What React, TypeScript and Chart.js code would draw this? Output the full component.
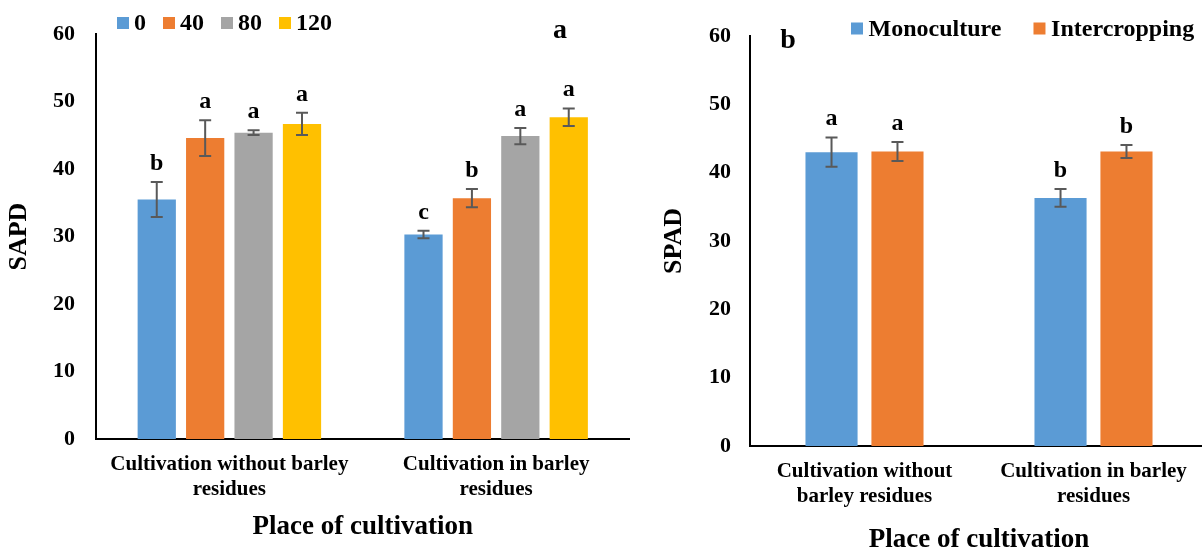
import React, { useEffect, useRef } from "react";
import { Chart, registerables } from "chart.js";

Chart.register(...registerables);

const FONT = '"Liberation Serif", "Times New Roman", Times, serif';

// ---------- Panel a ----------
const categoriesA = [
  ["Cultivation without barley", "residues"],
  ["Cultivation in barley", "residues"],
];
const seriesNamesA = ["0", "40", "80", "120"];
const colorsA = ["#5B9BD5", "#ED7D31", "#A5A5A5", "#FFC000"];
const valuesA0 = [35.5, 30.3];
const valuesA40 = [44.6, 35.7];
const valuesA80 = [45.4, 44.9];
const valuesA120 = [46.7, 47.7];
const errA0 = [2.6, 0.55];
const errA40 = [2.65, 1.35];
const errA80 = [0.35, 1.2];
const errA120 = [1.65, 1.3];
const lettersA0 = ["b", "c"];
const lettersA40 = ["a", "b"];
const lettersA80 = ["a", "a"];
const lettersA120 = ["a", "a"];

// ---------- Panel b ----------
const categoriesB = [
  ["Cultivation without", "barley residues"],
  ["Cultivation in barley", "residues"],
];
const seriesNamesB = ["Monoculture", "Intercropping"];
const colorsB = ["#5B9BD5", "#ED7D31"];
const valuesMono = [43.0, 36.3];
const valuesInter = [43.1, 43.1];
const errMono = [2.15, 1.3];
const errInter = [1.4, 0.95];
const lettersMono = ["a", "b"];
const lettersInter = ["a", "b"];

const yTicks = [0, 10, 20, 30, 40, 50, 60];

function annotPlugin(cfg: any) {
  return {
    id: "annot",
    afterDatasetsDraw(chart: any) {
      const ctx = chart.ctx;
      const ys = chart.scales.y;
      chart.data.datasets.forEach((ds: any, i: number) => {
        const meta = chart.getDatasetMeta(i);
        meta.data.forEach((bar: any, j: number) => {
          const v = ds.data[j];
          const e = cfg.errors[i][j];
          const x = bar.x;
          const yt = ys.getPixelForValue(v + e);
          const yb = ys.getPixelForValue(v - e);
          ctx.save();
          ctx.strokeStyle = "#595959";
          ctx.lineWidth = 2;
          ctx.beginPath();
          ctx.moveTo(x, yt);
          ctx.lineTo(x, yb);
          ctx.moveTo(x - 6, yt);
          ctx.lineTo(x + 6, yt);
          ctx.moveTo(x - 6, yb);
          ctx.lineTo(x + 6, yb);
          ctx.stroke();
          ctx.fillStyle = "#000";
          ctx.font = `bold 24px ${FONT}`;
          ctx.textAlign = "center";
          ctx.textBaseline = "alphabetic";
          ctx.fillText(cfg.letters[i][j], x, yt - 12);
          ctx.restore();
        });
      });
      // legend
      ctx.save();
      ctx.font = `bold ${cfg.legend.size}px ${FONT}`;
      ctx.textBaseline = "alphabetic";
      ctx.textAlign = "left";
      let lx = cfg.legend.x;
      chart.data.datasets.forEach((ds: any) => {
        ctx.fillStyle = ds.backgroundColor;
        ctx.fillRect(lx, cfg.legend.boxTop, 12, 12);
        ctx.fillStyle = "#000";
        const tx = lx + cfg.legend.textOffset;
        ctx.fillText(ds.label, tx, cfg.legend.baseline);
        lx = tx + ctx.measureText(ds.label).width + cfg.legend.gap;
      });
      // panel label
      ctx.font = `bold 28px ${FONT}`;
      ctx.textAlign = "center";
      ctx.fillText(cfg.panel.text, cfg.panel.x, cfg.panel.y);
      ctx.restore();
    },
  };
}

function makeConfig(p: any) {
  return {
    type: "bar",
    data: {
      labels: p.categories,
      datasets: p.series.map((s: any) => ({
        label: s.name,
        data: s.values,
        backgroundColor: s.color,
        borderWidth: 0,
        categoryPercentage: p.catPct,
        barPercentage: p.barPct,
      })),
    },
    options: {
      responsive: false,
      animation: false,
      layout: { padding: { top: p.top, right: p.right, left: 0, bottom: 0 } },
      plugins: { legend: { display: false }, tooltip: { enabled: false } },
      scales: {
        x: {
          grid: { display: false, drawTicks: false },
          border: { display: true, color: "#000", width: 2 },
          ticks: {
            color: "#000",
            font: { family: FONT, size: 21, weight: "bold", lineHeight: 1.2 },
            padding: 13,
            maxRotation: 0,
            autoSkip: false,
          },
          title: {
            display: true,
            text: "Place of cultivation",
            color: "#000",
            font: { family: FONT, size: 27, weight: "bold", lineHeight: p.xTitleLH },
            padding: { top: 0, bottom: p.xTitlePad },
          },
          afterFit: (s: any) => {
            s.height = p.xHeight;
          },
        },
        y: {
          min: 0,
          max: 60,
          afterBuildTicks: (s: any) => {
            s.ticks = yTicks.map((v) => ({ value: v }));
          },
          ticks: {
            color: "#000",
            font: { family: FONT, size: 22, weight: "bold" },
            padding: p.yTickPad,
          },
          grid: { display: false, drawTicks: false },
          border: { display: true, color: "#000", width: 2 },
          title: {
            display: true,
            text: p.yTitle,
            color: "#000",
            font: { family: FONT, size: 26, weight: "bold", lineHeight: 1.2 },
            padding: { top: p.yTitlePad, bottom: 0 },
          },
          afterFit: (s: any) => {
            s.width = p.yWidth;
          },
        },
      },
    },
    plugins: [annotPlugin(p.annot)],
  };
}

function ChartCanvas({ left, width, height, config }: any) {
  const ref = useRef<HTMLCanvasElement | null>(null);
  useEffect(() => {
    if (!ref.current) return;
    const chart = new Chart(ref.current, config);
    return () => chart.destroy();
  }, []);
  return (
    <canvas
      ref={ref}
      width={width}
      height={height}
      style={{ position: "absolute", left, top: 0, width, height }}
    />
  );
}

export default function App() {
  const configA = makeConfig({
    categories: categoriesA,
    series: [
      { name: seriesNamesA[0], values: valuesA0, color: colorsA[0] },
      { name: seriesNamesA[1], values: valuesA40, color: colorsA[1] },
      { name: seriesNamesA[2], values: valuesA80, color: colorsA[2] },
      { name: seriesNamesA[3], values: valuesA120, color: colorsA[3] },
    ],
    catPct: 0.726,
    barPct: 0.79,
    top: 25,
    right: 10.5,
    xHeight: 112,
    xTitleLH: 1.2,
    xTitlePad: 8,
    yWidth: 96,
    yTickPad: 21,
    yTitle: "SAPD",
    yTitlePad: 4,
    annot: {
      errors: [errA0, errA40, errA80, errA120],
      letters: [lettersA0, lettersA40, lettersA80, lettersA120],
      legend: { x: 117, boxTop: 17, textOffset: 17, baseline: 30, gap: 17, size: 24 },
      panel: { text: "a", x: 560, y: 38 },
    },
  });
  const configB = makeConfig({
    categories: categoriesB,
    series: [
      { name: seriesNamesB[0], values: valuesMono, color: colorsB[0] },
      { name: seriesNamesB[1], values: valuesInter, color: colorsB[1] },
    ],
    catPct: 0.576,
    barPct: 0.79,
    top: 36,
    right: 2,
    xHeight: 105,
    xTitleLH: 1.0,
    xTitlePad: -3,
    yWidth: 100,
    yTickPad: 19,
    yTitle: "SPAD",
    yTitlePad: 8.4,
    annot: {
      errors: [errMono, errInter],
      letters: [lettersMono, lettersInter],
      legend: { x: 201, boxTop: 22.5, textOffset: 17.6, baseline: 36, gap: 32, size: 24 },
      panel: { text: "b", x: 138, y: 48 },
    },
  });
  return (
    <div
      style={{
        position: "fixed",
        left: 0,
        top: 0,
        width: 1202,
        height: 551,
        overflow: "hidden",
        background: "#fff",
      }}
    >
      <ChartCanvas left={0} width={640} height={551} config={configA} />
      <ChartCanvas left={650} width={560} height={551} config={configB} />
    </div>
  );
}
